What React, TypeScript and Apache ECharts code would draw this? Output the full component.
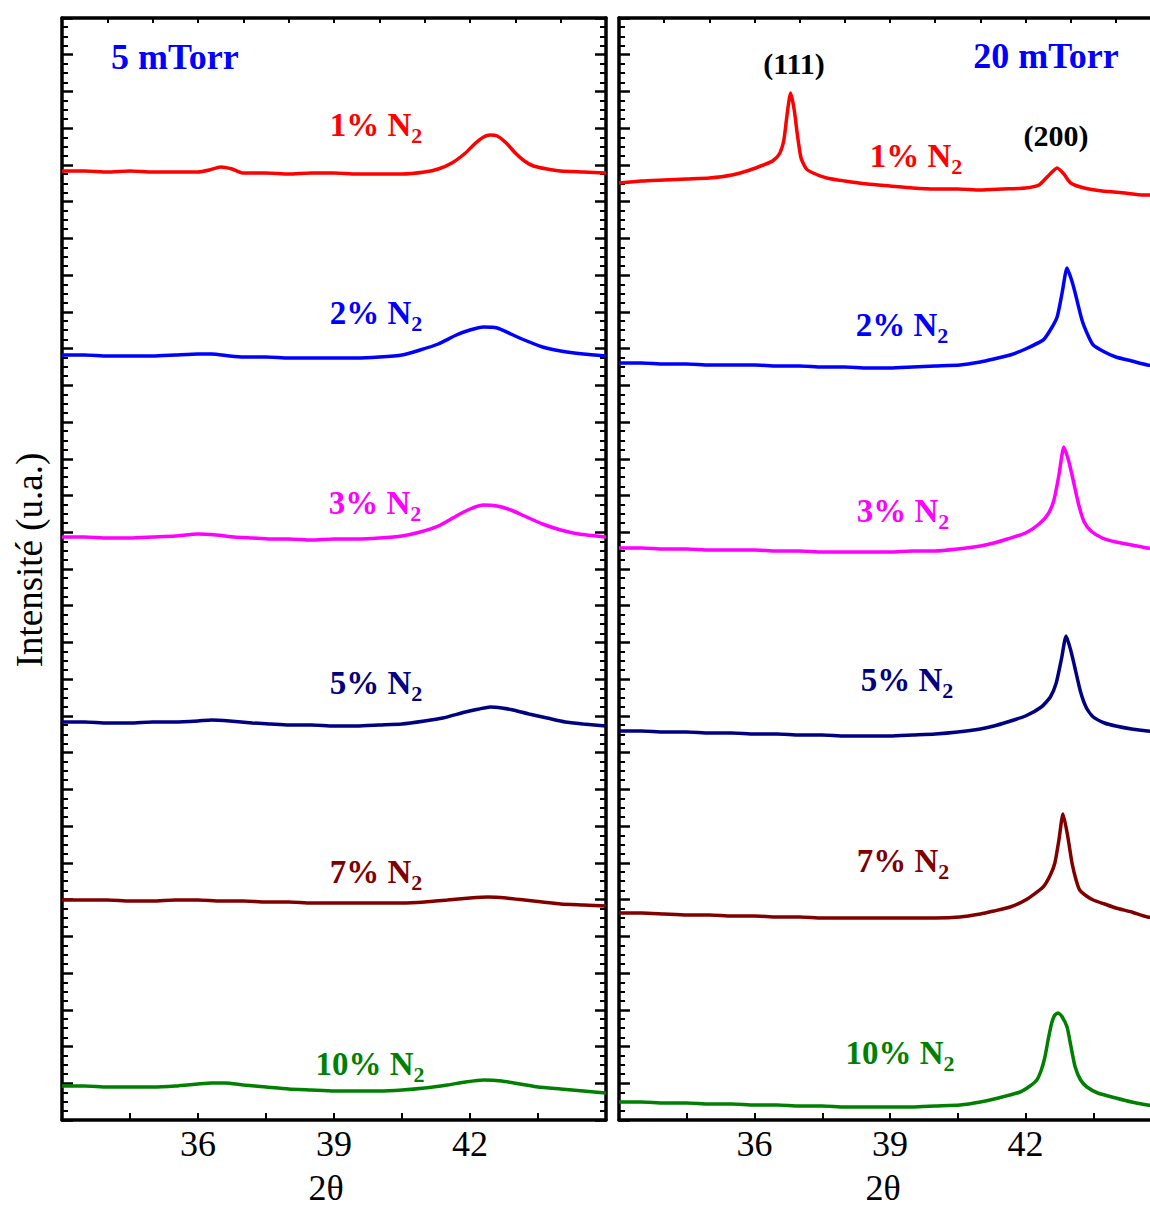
import React, { useEffect, useRef } from "react";
import * as echarts from "echarts";

// 2θ range and tick labels
const X_MIN = 33;
const X_MAX = 45;
const X_LABELS = [36, 39, 42];
const Y_MAX = 1102;

// ---- 5 mTorr (left panel) ----
const L1: number[][] = [[33,949],[33.5,949],[34,948],[34.5,949],[35,948],[35.5,948],[36,948],[36.25,950],[36.5,953],[36.75,951],[37,947],[37.5,947],[38,946],[38.5,947],[39,947],[39.5,946],[40,946],[40.5,946],[41,948],[41.3,951],[41.6,957],[41.9,967],[42.1,976],[42.3,983],[42.45,985],[42.6,984],[42.8,977],[43,967],[43.2,959],[43.4,954],[43.7,951],[44,949],[44.5,948],[45,947]];
const L2: number[][] = [[33,765],[33.5,765],[34,764],[34.5,764],[35,764],[35.5,765],[36,766],[36.3,766],[36.7,764],[37,763],[37.5,763],[38,762],[38.5,762],[39,762],[39.5,762],[40,763],[40.5,765],[40.9,770],[41.3,776],[41.7,785],[42,790],[42.3,793],[42.6,792],[42.9,786],[43.2,780],[43.6,773],[44,769],[44.5,766],[45,764]];
const L3: number[][] = [[33,583],[33.5,583],[34,582],[34.5,582],[35,583],[35.5,584],[36,586],[36.4,585],[36.8,583],[37.2,582],[37.6,581],[38,581],[38.5,580],[39,581],[39.5,581],[40,582],[40.5,584],[40.9,588],[41.3,594],[41.7,604],[42,611],[42.3,615],[42.6,614],[42.9,610],[43.2,604],[43.6,596],[44,590],[44.4,586],[45,583]];
const L5: number[][] = [[33,398],[33.5,398],[34,397],[34.5,397],[35,398],[35.5,398],[36,399],[36.3,400],[36.7,399],[37.2,397],[37.6,396],[38,395],[38.5,395],[39,394],[39.5,394],[40,395],[40.5,396],[41,399],[41.4,402],[41.9,408],[42.2,411],[42.45,413],[42.7,412],[42.95,410],[43.3,406],[43.7,402],[44.1,398],[44.5,396],[45,394]];
const L7: number[][] = [[33,220],[33.5,220],[34,220],[34.5,219],[35,219],[35.5,220],[36,220],[36.5,219],[37,219],[37.5,218],[38,218],[38.5,217],[39,217],[39.5,217],[40,217],[40.5,217],[41,218],[41.5,220],[42,222],[42.4,223],[42.8,222],[43.2,220],[43.6,218],[44,216],[44.5,215],[45,214]];
const L10: number[][] = [[33,34],[33.5,34],[34,33],[34.5,33],[35,33],[35.5,34],[36,36],[36.3,37],[36.6,37],[37,35],[37.5,33],[38,31],[38.5,30],[39,29],[39.5,29],[40,29],[40.5,30],[41,32],[41.5,35],[41.9,38],[42.3,40],[42.7,39],[43.1,36],[43.5,33],[44,31],[44.5,29],[45,27]];

// ---- 20 mTorr (right panel) ----
const R1: number[][] = [[33,937],[33.5,939],[34,940],[34.5,941],[35,942],[35.5,945],[35.9,950],[36.2,955],[36.4,959],[36.55,966],[36.65,980],[36.72,1005],[36.8,1027],[36.88,1010],[36.95,985],[37.03,962],[37.15,951],[37.3,947],[37.6,942],[38,939],[38.5,936],[39,934],[39.5,932],[40,931],[40.5,931],[41,930],[41.5,931],[42,932],[42.3,935],[42.5,944],[42.7,952],[42.85,946],[43,937],[43.3,932],[43.7,929],[44.2,927],[44.6,925],[45,925]];
const R2: number[][] = [[33,757],[33.5,757],[34,756],[34.5,756],[35,755],[35.5,755],[36,755],[36.5,754],[37,754],[37.5,753],[38,753],[38.5,752],[39,752],[39.5,753],[40,754],[40.55,755],[41,758],[41.3,761],[41.66,765],[42,771],[42.39,780],[42.55,790],[42.7,803],[42.81,827],[42.92,852],[43.02,840],[43.1,827],[43.25,800],[43.38,785],[43.5,775],[43.75,768],[44,763],[44.35,759],[44.7,755],[45,754]];
const R3: number[][] = [[33,572],[33.5,572],[34,571],[34.5,571],[35,570],[35.5,570],[36,570],[36.5,569],[37,569],[37.5,568],[38,568],[38.5,568],[39,568],[39.5,569],[40,569],[40.5,571],[41,574],[41.3,577],[41.6,581],[42,587],[42.3,596],[42.5,606],[42.63,620],[42.74,645],[42.85,673],[42.95,660],[43.03,645],[43.18,615],[43.3,598],[43.45,589],[43.7,582],[44,578],[44.35,575],[44.7,572],[45,571]];
const R5: number[][] = [[33,389],[33.5,389],[34,388],[34.5,388],[35,387],[35.5,387],[36,386],[36.5,386],[37,385],[37.5,385],[38,384],[38.5,384],[39,384],[39.5,385],[40,386],[40.5,388],[41,391],[41.3,394],[41.6,398],[42,404],[42.35,413],[42.55,423],[42.68,437],[42.8,462],[42.9,484],[43,470],[43.08,455],[43.22,428],[43.35,412],[43.5,403],[43.75,397],[44,394],[44.35,391],[44.7,389],[45,388]];
const R7: number[][] = [[33,207],[33.5,207],[34,206],[34.5,205],[35,205],[35.5,204],[36,204],[36.5,203],[37,203],[37.5,202],[38,202],[38.5,202],[39,202],[39.5,202],[40,202],[40.55,203],[41,206],[41.3,209],[41.66,213],[42,220],[42.39,233],[42.55,245],[42.65,257],[42.74,280],[42.83,306],[42.93,285],[43.03,257],[43.12,240],[43.2,230],[43.35,224],[43.5,220],[43.75,216],[44,212],[44.35,208],[44.7,203],[45,202]];
const R10: number[][] = [[33,18],[33.5,18],[34,17],[34.5,17],[35,16],[35.5,16],[36,15],[36.5,15],[37,14],[37.5,14],[38,13],[38.5,13],[39,13],[39.5,13],[40,14],[40.55,15],[41,18],[41.4,22],[41.88,28],[42.1,34],[42.25,40],[42.35,50],[42.43,63],[42.5,80],[42.58,97],[42.65,105],[42.72,107],[42.8,104],[42.92,93],[43,75],[43.1,53],[43.22,40],[43.36,33],[43.6,27],[44,22],[44.35,18],[44.7,15],[45,14]];

const SERIES_NAMES = ["1% N2", "2% N2", "3% N2", "5% N2", "7% N2", "10% N2"];
const COLORS = ["#ff0000", "#0000ff", "#ff00ff", "#000080", "#800000", "#008000"];
const LEFT_DATA = [L1, L2, L3, L5, L7, L10];
const RIGHT_DATA = [R1, R2, R3, R5, R7, R10];
const PERCENTS = ["1%", "2%", "3%", "5%", "7%", "10%"];

const SERIF = "'Liberation Serif', 'Times New Roman', serif";

function curveLabel(pct: string, color: string, x: number, y: number) {
  return {
    type: "text",
    x,
    y,
    style: {
      text: `{a|${pct} N}{b|2}`,
      textAlign: "center",
      textVerticalAlign: "middle",
      rich: {
        a: { fontSize: 33, fontWeight: "bold", fontFamily: SERIF, fill: color, color, lineHeight: 42 },
        b: { fontSize: 22, fontWeight: "bold", fontFamily: SERIF, fill: color, color, lineHeight: 22, verticalAlign: "bottom" },
      },
    },
  };
}

export default function App() {
  const ref = useRef<HTMLDivElement>(null);
  useEffect(() => {
    document.body.style.margin = "0";
    const chart = echarts.init(ref.current!, undefined, { renderer: "svg" });
    const axisLine = { show: true, onZero: false, lineStyle: { color: "#000", width: 3.5 } };
    const bottomX = (gridIndex: number) => ({
      type: "value", gridIndex, position: "bottom", min: X_MIN, max: X_MAX, interval: 1.5,
      axisLine,
      axisTick: { show: true, inside: true, length: 7, lineStyle: { color: "#000", width: 2 } },
      axisLabel: {
        margin: 6, fontSize: 36, fontFamily: SERIF, color: "#000",
        formatter: (v: number) => (X_LABELS.includes(v) ? String(v) : ""),
      },
      splitLine: { show: false },
    });
    const topX = (gridIndex: number) => ({
      type: "value", gridIndex, position: "top", min: X_MIN, max: X_MAX, interval: 1,
      axisLine,
      axisTick: { show: true, inside: true, length: 5, lineStyle: { color: "#000", width: 2 } },
      axisLabel: { show: false },
      splitLine: { show: false },
    });
    const yAx = (gridIndex: number, position: string) => ({
      type: "value", gridIndex, position, min: 0, max: Y_MAX, interval: Y_MAX / 30,
      axisLine,
      axisTick: { show: true, inside: true, length: 11, lineStyle: { color: "#000", width: 2.5 } },
      minorTick: { show: true, splitNumber: 4, length: 6, lineStyle: { color: "#000", width: 2 } },
      axisLabel: { show: false },
      splitLine: { show: false },
    });
    const mkSeries = (data: number[][], i: number, side: number) => ({
      name: SERIES_NAMES[i] + (side ? " (20 mTorr)" : " (5 mTorr)"),
      type: "line",
      xAxisIndex: side * 2,
      yAxisIndex: side * 2,
      data,
      showSymbol: false,
      smooth: 0.2,
      lineStyle: { color: COLORS[i], width: 3.5 },
      itemStyle: { color: COLORS[i] },
    });
    const leftLabelPos = [[376, 125], [376, 313], [375, 503], [376, 683], [376, 872], [370, 1064]];
    const rightLabelPos = [[916, 156], [902, 325], [903, 511], [907, 680], [903, 861], [900, 1053]];
    const txt = (x: number, y: number, text: string, size: number, color: string, bold: boolean, align = "center", rotation = 0) => ({
      type: "text", x, y, rotation,
      style: { text, fontSize: size, fontWeight: bold ? "bold" : "normal", fontFamily: SERIF, fill: color, textAlign: align, textVerticalAlign: "middle" },
    });
    chart.setOption({
      animation: false,
      grid: [
        { left: 62, top: 18, width: 544, height: 1102, outerBoundsMode: "none", containLabel: false },
        { left: 619, top: 18, width: 542, height: 1102, outerBoundsMode: "none", containLabel: false },
      ],
      xAxis: [bottomX(0), topX(0), bottomX(1), topX(1)],
      yAxis: [yAx(0, "left"), yAx(0, "right"), yAx(1, "left"), yAx(1, "right")],
      series: [
        ...LEFT_DATA.map((d, i) => mkSeries(d, i, 0)),
        ...RIGHT_DATA.map((d, i) => mkSeries(d, i, 1)),
      ],
      graphic: [
        ...leftLabelPos.map((p, i) => curveLabel(PERCENTS[i], COLORS[i], p[0], p[1])),
        ...rightLabelPos.map((p, i) => curveLabel(PERCENTS[i], COLORS[i], p[0], p[1])),
        txt(111, 57, "5 mTorr", 36, "#0000ff", true, "left"),
        txt(1046, 56, "20 mTorr", 36, "#0000ff", true),
        txt(794, 63, "(111)", 30, "#000", true),
        txt(1056, 135, "(200)", 30, "#000", true),
        txt(29, 560, "Intensité (u.a.)", 37, "#000", false, "center", Math.PI / 2),
        txt(326, 1188, "2θ", 36, "#000", false),
        txt(883, 1188, "2θ", 36, "#000", false),
      ],
    });
    return () => chart.dispose();
  }, []);
  return <div ref={ref} style={{ position: "absolute", left: 0, top: 0, width: 1150, height: 1207 }} />;
}
